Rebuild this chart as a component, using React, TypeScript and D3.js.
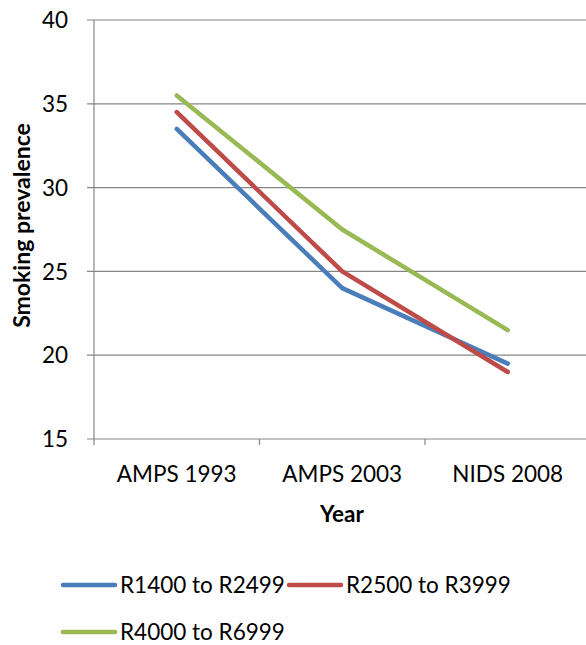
import React from "react";
import * as d3 from "d3";

const categories = ["AMPS 1993", "AMPS 2003", "NIDS 2008"];
const seriesNames = ["R1400 to R2499", "R2500 to R3999", "R4000 to R6999"];
const r1400 = [33.5, 24, 19.5];
const r2500 = [34.5, 25, 19];
const r4000 = [35.5, 27.5, 21.5];
const yTicks = [15, 20, 25, 30, 35, 40];
const colors = ["#4a7ebb", "#be4b48", "#98b954"];

const W = 586;
const H = 645;
const FONT = "Lato, 'Open Sans', sans-serif";
const FS = 22.5;

export default function App() {
  const left = 94;
  const right = 590.5;
  const top = 20;
  const bottom = 439;
  const x = d3.scaleBand<string>().domain(categories).range([left, right]);
  const y = d3.scaleLinear().domain([15, 40]).range([bottom, top]);
  const line = d3
    .line<number>()
    .x((_, i) => (x(categories[i]) as number) + x.bandwidth() / 2)
    .y((d) => y(d));
  const series = [r1400, r2500, r4000];
  const legend = [
    { x: 63, y: 585 },
    { x: 289, y: 585 },
    { x: 63, y: 632 },
  ];
  return (
    <svg
      width={W}
      height={H}
      style={{ position: "absolute", left: 0, top: 0, background: "#fff" }}
      fontFamily={FONT}
    >
      {yTicks.map((t) => (
        <g key={t}>
          <line x1={87} x2={W} y1={y(t)} y2={y(t)} stroke="#868686" strokeWidth={1.2} />
          <text x={68} y={y(t)} dy="0.36em" textAnchor="end" fontSize={FS} fill="#000">
            {t}
          </text>
        </g>
      ))}
      <line x1={left} x2={left} y1={top} y2={bottom + 6} stroke="#868686" strokeWidth={1.2} />
      {categories.map((c, i) => (
        <g key={c}>
          {i > 0 && (
            <line
              x1={x(c) as number}
              x2={x(c) as number}
              y1={bottom}
              y2={bottom + 6}
              stroke="#868686"
              strokeWidth={1.2}
            />
          )}
          <text
            x={(x(c) as number) + x.bandwidth() / 2}
            y={482}
            textAnchor="middle"
            fontSize={FS}
            fill="#000"
          >
            {c}
          </text>
        </g>
      ))}
      <text x={342} y={522} textAnchor="middle" fontSize={FS} fontWeight="bold" fill="#000">
        Year
      </text>
      <text
        transform={`translate(30, ${(113 + 338) / 2}) rotate(-90)`}
        textAnchor="middle"
        fontSize={23}
        fontWeight="bold"
        fill="#000"
      >
        Smoking prevalence
      </text>
      {series.map((s, i) => (
        <path
          key={i}
          d={line(s) as string}
          fill="none"
          stroke={colors[i]}
          strokeWidth={4.5}
          strokeLinecap="round"
          strokeLinejoin="round"
        />
      ))}
      {seriesNames.map((n, i) => (
        <g key={n}>
          <line
            x1={legend[i].x}
            x2={legend[i].x + 52}
            y1={legend[i].y}
            y2={legend[i].y}
            stroke={colors[i]}
            strokeWidth={4.5}
            strokeLinecap="round"
          />
          <text x={legend[i].x + 57} y={legend[i].y} dy="0.35em" fontSize={FS} fill="#000">
            {n}
          </text>
        </g>
      ))}
    </svg>
  );
}
